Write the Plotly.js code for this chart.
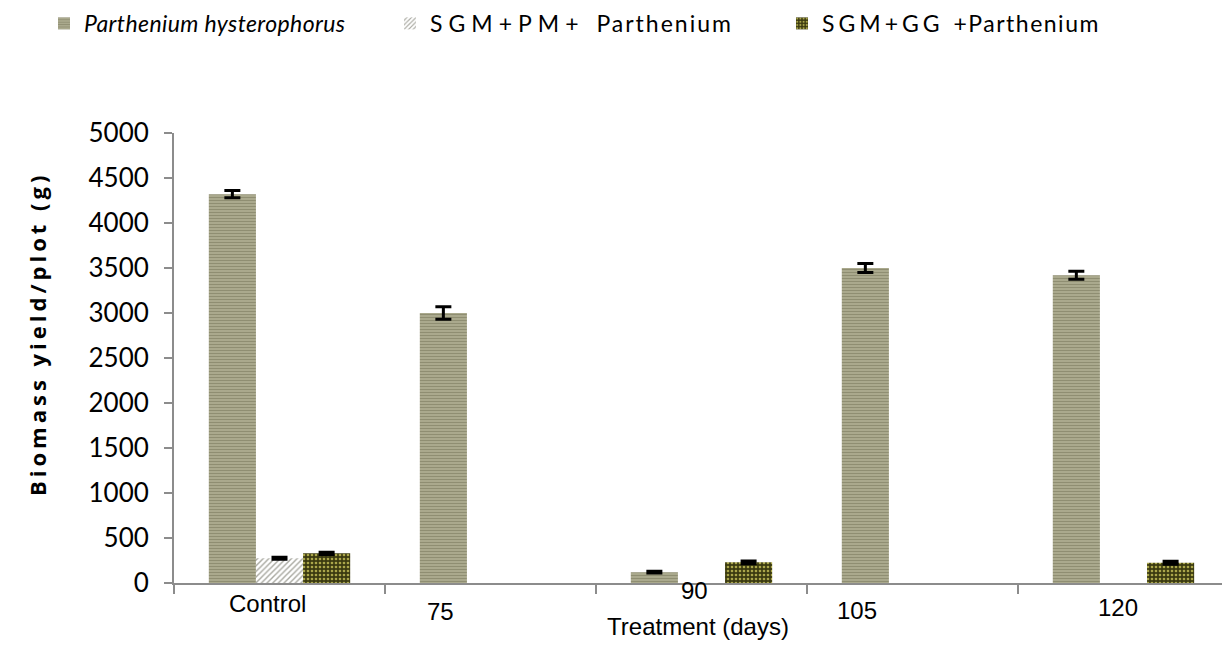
<!DOCTYPE html>
<html>
<head>
<meta charset="utf-8">
<script src="https://cdn.plot.ly/plotly-3.0.1.min.js"></script>
<style>html,body{margin:0;padding:0;background:#fff;}#chart{width:1222px;height:645px;}</style>
</head>
<body>
<div id="chart"></div>
<script>
// ---- data ----
const categories = ['Control', '75', '90', '105', '120'];
const seriesNames = ['Parthenium hysterophorus', 'SGM+PM+ Parthenium', 'SGM+GG +Parthenium'];
const partheniumValues = [4320, 3000, 120, 3500, 3420];
const partheniumErrors = [40, 70, 10, 50, 45];
const sgmPmValues = [275, null, null, null, null];
const sgmPmErrors = [10, 0, 0, 0, 0];
const sgmGgValues = [330, null, 230, null, 225];
const sgmGgErrors = [12, 0, 15, 0, 18];
const yTitle = 'Biomass yield/plot (g)';
const xTitle = 'Treatment (days)';

// ---- style ----
const labelShiftX = [-12, -50, -7, -55, -5];
const labelShiftY = [-20, -28, -7, -27, -24];
const legendX = [44, 390, 782];
const sp = (t, px) => '<span style="letter-spacing:' + px + 'px">' + t + '</span>';
// legend text: wide Excel-like spacing in the "SGM" prefixes
function spacedName(name, splitAt, lsHead, lsTail) {
  return sp(name.slice(0, splitAt), lsHead) + sp(name.slice(splitAt), lsTail);
}

function errBar(arr) {
  return {type: 'data', array: arr, visible: true, color: '#000', thickness: 3, width: 8};
}

const traces = [
  {
    type: 'bar', x: categories, y: partheniumValues, legend: 'legend',
    name: '<i>' + sp(seriesNames[0], 0.4) + '</i>',
    marker: {color: '#a9a88b', line: {width: 0},
      pattern: {shape: '-', size: 3, solidity: 0.45, fgcolor: '#8f8e72', bgcolor: '#b0af93', fillmode: 'replace'}},
    error_y: errBar(partheniumErrors)
  },
  {
    type: 'bar', x: categories, y: sgmPmValues, legend: 'legend2',
    name: spacedName(seriesNames[1], 8, 6, 2),
    marker: {color: '#ffffff', line: {width: 0},
      pattern: {shape: '/', size: 4, solidity: 0.35, fgcolor: '#a8a8a0', bgcolor: '#ffffff', fillmode: 'replace'}},
    error_y: errBar(sgmPmErrors)
  },
  {
    type: 'bar', x: categories, y: sgmGgValues, legend: 'legend3',
    name: spacedName(seriesNames[2], 7, 4, 1.5),
    marker: {color: '#3d3c12', line: {width: 0},
      pattern: {shape: '.', size: 4, solidity: 0.35, fgcolor: '#aaa64a', bgcolor: '#3b3a10', fillmode: 'replace'}},
    error_y: errBar(sgmGgErrors)
  }
];

const annotations = categories.map((c, i) => ({
  text: c, x: i, xref: 'x', y: 0, yref: 'paper',
  xanchor: 'center', yanchor: 'middle', showarrow: false,
  xshift: labelShiftX[i], yshift: labelShiftY[i],
  font: {family: 'Liberation Sans, Arial, sans-serif', size: 24, color: '#000'}
}));
annotations.push({
  text: '<b>' + sp(yTitle, 4) + '</b>', textangle: -90,
  xref: 'paper', x: 0, xshift: -137, yref: 'paper', y: 0.5, yshift: 24,
  xanchor: 'center', yanchor: 'middle', showarrow: false,
  font: {family: 'Open Sans, sans-serif', size: 22, color: '#000'}
});

function legendAt(px) {
  return {
    orientation: 'h', xref: 'container', yref: 'container',
    x: px / 1222, y: 0.997, xanchor: 'left', yanchor: 'top',
    font: {family: 'Lato, sans-serif', size: 23, color: '#000'},
    bgcolor: 'rgba(0,0,0,0)'
  };
}

const layout = {
  width: 1222, height: 645,
  margin: {l: 174, r: 0, t: 133, b: 62},
  paper_bgcolor: '#fff', plot_bgcolor: '#fff',
  barmode: 'group', bargap: 0.33, bargroupgap: 0,
  showlegend: true,
  legend: legendAt(legendX[0]),
  legend2: legendAt(legendX[1]),
  legend3: legendAt(legendX[2]),
  xaxis: {
    type: 'category', range: [-0.5, 4.467],
    showline: true, linecolor: '#8c8c8c', linewidth: 2,
    ticks: 'outside', tickson: 'boundaries', ticklen: 9, tickcolor: '#8c8c8c', tickwidth: 2,
    showticklabels: false, showgrid: false, zeroline: false, fixedrange: true,
    title: {text: xTitle, standoff: 34, font: {family: 'Liberation Sans, Arial, sans-serif', size: 24, color: '#000'}}
  },
  yaxis: {
    range: [0, 5000], dtick: 500, tick0: 0,
    showline: true, linecolor: '#8c8c8c', linewidth: 2,
    ticks: 'outside', ticklen: 8, tickcolor: '#8c8c8c', tickwidth: 2,
    ticklabelstandoff: 10,
    showgrid: false, zeroline: false,
    tickfont: {family: 'Lato, sans-serif', size: 26, color: '#000'}
  },
  annotations: annotations
};

Plotly.newPlot('chart', traces, layout, {displayModeBar: false, staticPlot: true});
</script>
</body>
</html>
